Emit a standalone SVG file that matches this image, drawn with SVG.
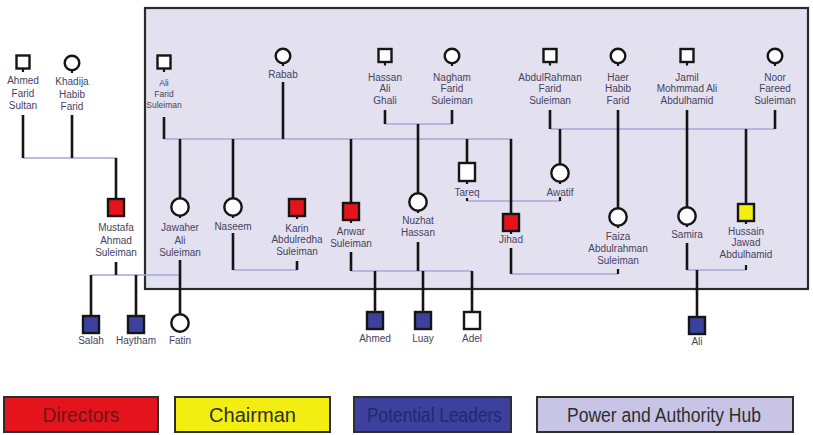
<svg xmlns="http://www.w3.org/2000/svg" width="813" height="435" viewBox="0 0 813 435">
  <style>
    .hub { fill: #e3e1f0; stroke: #2a2a2a; stroke-width: 2.2; }
    .h { stroke: #a9a4d7; stroke-width: 1.7; fill: none; }
    .v { stroke: #151515; stroke-width: 2.6; fill: none; }
    .tick { stroke: #151515; stroke-width: 2.2; fill: none; }
    .sq { fill: #ffffff; stroke: #151515; stroke-width: 2.4; }
    .ci { fill: #ffffff; stroke: #151515; stroke-width: 2.4; }
    .dir { fill: #e3141c; }
    .chair { fill: #f3ee12; }
    .lead { fill: #3b419c; }
    .lbl { font-family: "Liberation Sans", Arial, sans-serif; font-size: 10px; fill: #46435c; text-anchor: middle; }
    .lbl.small { font-size: 8.5px; }
    .key rect { stroke: #2e2e2e; stroke-width: 2; }
    .key text { font-family: "Liberation Sans", Arial, sans-serif; font-size: 20px; text-anchor: middle; }
  </style>

  <!-- power and authority hub -->
  <rect id="hub" class="hub" x="145" y="8" width="663" height="281"/>

  <g id="connectors">
    <!-- marriage / sibling bars -->
    <line class="h" x1="23" y1="158" x2="117" y2="158"/>
    <line class="h" x1="91" y1="275" x2="181" y2="275"/>
    <line class="h" x1="164" y1="139" x2="512" y2="139"/>
    <line class="h" x1="385" y1="124" x2="452" y2="124"/>
    <line class="h" x1="233" y1="270" x2="297" y2="270"/>
    <line class="h" x1="351" y1="271" x2="472" y2="271"/>
    <line class="h" x1="467" y1="201" x2="560" y2="201"/>
    <line class="h" x1="511" y1="274" x2="618" y2="274"/>
    <line class="h" x1="550" y1="129" x2="775" y2="129"/>
    <line class="h" x1="687" y1="270" x2="746" y2="270"/>
    <!-- descent lines -->
    <line class="v" x1="23" y1="115" x2="23" y2="158"/>
    <line class="v" x1="72" y1="115" x2="72" y2="158"/>
    <line class="v" x1="116" y1="158" x2="116" y2="199"/>
    <line class="v" x1="116" y1="262" x2="116" y2="275"/>
    <line class="v" x1="91" y1="275" x2="91" y2="316"/>
    <line class="v" x1="136" y1="275" x2="136" y2="316"/>
    <line class="v" x1="180" y1="260" x2="180" y2="314"/>
    <line class="v" x1="164" y1="117" x2="164" y2="139"/>
    <line class="v" x1="283" y1="82" x2="283" y2="139"/>
    <line class="v" x1="180" y1="139" x2="180" y2="198"/>
    <line class="v" x1="233" y1="139" x2="233" y2="198"/>
    <line class="v" x1="233" y1="233" x2="233" y2="270"/>
    <line class="v" x1="297" y1="261" x2="297" y2="270"/>
    <line class="v" x1="351" y1="139" x2="351" y2="203"/>
    <line class="v" x1="351" y1="252" x2="351" y2="271"/>
    <line class="v" x1="385" y1="110" x2="385" y2="124"/>
    <line class="v" x1="452" y1="110" x2="452" y2="124"/>
    <line class="v" x1="418" y1="124" x2="418" y2="193"/>
    <line class="v" x1="418" y1="242" x2="418" y2="271"/>
    <line class="v" x1="375" y1="271" x2="375" y2="312"/>
    <line class="v" x1="423" y1="271" x2="423" y2="312"/>
    <line class="v" x1="472" y1="271" x2="472" y2="312"/>
    <line class="v" x1="467" y1="139" x2="467" y2="163"/>
    <line class="v" x1="511" y1="139" x2="511" y2="214"/>
    <line class="v" x1="511" y1="248" x2="511" y2="274"/>
    <line class="v" x1="550" y1="110" x2="550" y2="129"/>
    <line class="v" x1="618" y1="110" x2="618" y2="208"/>
    <line class="v" x1="687" y1="110" x2="687" y2="207"/>
    <line class="v" x1="775" y1="110" x2="775" y2="129"/>
    <line class="v" x1="560" y1="129" x2="560" y2="164"/>
    <line class="v" x1="746" y1="129" x2="746" y2="204"/>
    <line class="v" x1="687" y1="243" x2="687" y2="270"/>
    <line class="v" x1="697" y1="270" x2="697" y2="317"/>
    <!-- short stubs under labels -->
    <line class="tick" x1="467" y1="198" x2="467" y2="201"/>
    <line class="tick" x1="560" y1="197" x2="560" y2="201"/>
    <line class="tick" x1="618" y1="269" x2="618" y2="274"/>
    <line class="tick" x1="746" y1="265" x2="746" y2="270"/>
  </g>

  <!-- founders outside the hub -->
  <g id="ahmed-farid-sultan">
    <rect class="sq" x="16.5" y="55.5" width="13" height="13"/>
    <line class="tick" x1="23" y1="69" x2="23" y2="72"/>
    <text class="lbl"><tspan x="23" y="84">Ahmed</tspan><tspan x="23" y="96.5">Farid</tspan><tspan x="23" y="109">Sultan</tspan></text>
  </g>
  <g id="khadija-habib-farid">
    <circle class="ci" cx="72" cy="63" r="7.3"/>
    <line class="tick" x1="72" y1="70" x2="72" y2="73"/>
    <text class="lbl"><tspan x="72" y="85">Khadija</tspan><tspan x="72" y="97.5">Habib</tspan><tspan x="72" y="110">Farid</tspan></text>
  </g>
  <g id="mustafa">
    <rect class="sq dir" x="108" y="199" width="16" height="17"/>
    <text class="lbl"><tspan x="116" y="231">Mustafa</tspan><tspan x="116" y="243.5">Ahmad</tspan><tspan x="116" y="255.5">Suleiman</tspan></text>
  </g>
  <g id="salah">
    <rect class="sq lead" x="83" y="316" width="16" height="17"/>
    <text class="lbl" x="91" y="344">Salah</text>
  </g>
  <g id="haytham">
    <rect class="sq lead" x="128" y="316" width="16" height="17"/>
    <text class="lbl" x="136" y="344">Haytham</text>
  </g>
  <g id="fatin">
    <circle class="ci" cx="180" cy="323" r="8.7"/>
    <text class="lbl" x="180" y="344">Fatin</text>
  </g>

  <!-- first generation inside the hub -->
  <g id="ali-farid-suleiman">
    <rect class="sq" x="157.5" y="55.5" width="13" height="13"/>
    <line class="tick" x1="164" y1="69" x2="164" y2="72"/>
    <text class="lbl small"><tspan x="164" y="86">Ali</tspan><tspan x="164" y="97">Farid</tspan><tspan x="164" y="108">Suleiman</tspan></text>
  </g>
  <g id="rabab">
    <circle class="ci" cx="283" cy="56" r="7.3"/>
    <line class="tick" x1="283" y1="63" x2="283" y2="66"/>
    <text class="lbl" x="283" y="78">Rabab</text>
  </g>
  <g id="hassan-ali-ghali">
    <rect class="sq" x="378.5" y="49" width="13" height="13"/>
    <line class="tick" x1="385" y1="62.5" x2="385" y2="65.5"/>
    <text class="lbl"><tspan x="385" y="80.5">Hassan</tspan><tspan x="385" y="92">Ali</tspan><tspan x="385" y="103.5">Ghali</tspan></text>
  </g>
  <g id="nagham-farid-suleiman">
    <circle class="ci" cx="452" cy="56" r="7.3"/>
    <line class="tick" x1="452" y1="63" x2="452" y2="66"/>
    <text class="lbl"><tspan x="452" y="80.5">Nagham</tspan><tspan x="452" y="92">Farid</tspan><tspan x="452" y="103.5">Suleiman</tspan></text>
  </g>
  <g id="abdulrahman-farid-suleiman">
    <rect class="sq" x="543.5" y="49" width="13" height="13"/>
    <line class="tick" x1="550" y1="62.5" x2="550" y2="65.5"/>
    <text class="lbl"><tspan x="550" y="80.5">AbdulRahman</tspan><tspan x="550" y="92">Farid</tspan><tspan x="550" y="103.5">Suleiman</tspan></text>
  </g>
  <g id="haer-habib-farid">
    <circle class="ci" cx="618" cy="56" r="7.3"/>
    <line class="tick" x1="618" y1="63" x2="618" y2="66"/>
    <text class="lbl"><tspan x="618" y="80.5">Haer</tspan><tspan x="618" y="92">Habib</tspan><tspan x="618" y="103.5">Farid</tspan></text>
  </g>
  <g id="jamil-mohmmad-ali-abdulhamid">
    <rect class="sq" x="680.5" y="49" width="13" height="13"/>
    <line class="tick" x1="687" y1="62.5" x2="687" y2="65.5"/>
    <text class="lbl"><tspan x="687" y="80.5">Jamil</tspan><tspan x="687" y="92">Mohmmad Ali</tspan><tspan x="687" y="103.5">Abdulhamid</tspan></text>
  </g>
  <g id="noor-fareed-suleiman">
    <circle class="ci" cx="775" cy="56" r="7.3"/>
    <line class="tick" x1="775" y1="63" x2="775" y2="66"/>
    <text class="lbl"><tspan x="775" y="80.5">Noor</tspan><tspan x="775" y="92">Fareed</tspan><tspan x="775" y="103.5">Suleiman</tspan></text>
  </g>

  <!-- second generation -->
  <g id="jawaher-ali-suleiman">
    <circle class="ci" cx="180" cy="207" r="8.7"/>
    <line class="tick" x1="180" y1="215" x2="180" y2="218"/>
    <text class="lbl"><tspan x="180" y="231">Jawaher</tspan><tspan x="180" y="243.5">Ali</tspan><tspan x="180" y="255.5">Suleiman</tspan></text>
  </g>
  <g id="naseem">
    <circle class="ci" cx="233" cy="207" r="8.7"/>
    <line class="tick" x1="233" y1="215" x2="233" y2="218"/>
    <text class="lbl" x="233" y="229.5">Naseem</text>
  </g>
  <g id="karin-abdulredha-suleiman">
    <rect class="sq dir" x="289" y="199" width="16" height="17"/>
    <line class="tick" x1="297" y1="216" x2="297" y2="219"/>
    <text class="lbl"><tspan x="297" y="231.5">Karin</tspan><tspan x="297" y="243">Abdulredha</tspan><tspan x="297" y="254.5">Suleiman</tspan></text>
  </g>
  <g id="anwar-suleiman">
    <rect class="sq dir" x="343" y="203" width="16" height="17"/>
    <line class="tick" x1="351" y1="220" x2="351" y2="223"/>
    <text class="lbl"><tspan x="351" y="234.5">Anwar</tspan><tspan x="351" y="246.5">Suleiman</tspan></text>
  </g>
  <g id="nuzhat-hassan">
    <circle class="ci" cx="418" cy="202" r="8.7"/>
    <line class="tick" x1="418" y1="210" x2="418" y2="213"/>
    <text class="lbl"><tspan x="418" y="223.5">Nuzhat</tspan><tspan x="418" y="235.5">Hassan</tspan></text>
  </g>
  <g id="tareq">
    <rect class="sq" x="459" y="163" width="16" height="18"/>
    <line class="tick" x1="467" y1="181" x2="467" y2="184"/>
    <text class="lbl" x="467" y="195.5">Tareq</text>
  </g>
  <g id="awatif">
    <circle class="ci" cx="560" cy="173" r="8.7"/>
    <line class="tick" x1="560" y1="181" x2="560" y2="184"/>
    <text class="lbl" x="560" y="195.5">Awatif</text>
  </g>
  <g id="jihad">
    <rect class="sq dir" x="503" y="214" width="16" height="17"/>
    <line class="tick" x1="511" y1="231" x2="511" y2="234"/>
    <text class="lbl" x="511" y="242.5">Jihad</text>
  </g>
  <g id="faiza-abdulrahman-suleiman">
    <circle class="ci" cx="618" cy="217" r="8.7"/>
    <line class="tick" x1="618" y1="225" x2="618" y2="228"/>
    <text class="lbl"><tspan x="618" y="240">Faiza</tspan><tspan x="618" y="252">Abdulrahman</tspan><tspan x="618" y="263.5">Suleiman</tspan></text>
  </g>
  <g id="samira">
    <circle class="ci" cx="687" cy="216" r="8.7"/>
    <line class="tick" x1="687" y1="224" x2="687" y2="227"/>
    <text class="lbl" x="687" y="238">Samira</text>
  </g>
  <g id="hussain-jawad-abdulhamid">
    <rect class="sq chair" x="738" y="204" width="16" height="17"/>
    <line class="tick" x1="746" y1="221" x2="746" y2="224"/>
    <text class="lbl"><tspan x="746" y="234.5">Hussain</tspan><tspan x="746" y="246">Jawad</tspan><tspan x="746" y="258">Abdulhamid</tspan></text>
  </g>

  <!-- third generation -->
  <g id="ahmed">
    <rect class="sq lead" x="367" y="312" width="16" height="17"/>
    <text class="lbl" x="375" y="342">Ahmed</text>
  </g>
  <g id="luay">
    <rect class="sq lead" x="415" y="312" width="16" height="17"/>
    <text class="lbl" x="423" y="342">Luay</text>
  </g>
  <g id="adel">
    <rect class="sq" x="464" y="312" width="16" height="17"/>
    <text class="lbl" x="472" y="342">Adel</text>
  </g>
  <g id="ali">
    <rect class="sq lead" x="689" y="317" width="16" height="17"/>
    <text class="lbl" x="697" y="345">Ali</text>
  </g>

  <!-- legend -->
  <g id="legend" class="key">
    <g id="key-directors">
      <rect x="4" y="397" width="154" height="35" fill="#e3141c"/>
      <text x="81" y="422" fill="#6e1616" textLength="77" lengthAdjust="spacingAndGlyphs">Directors</text>
    </g>
    <g id="key-chairman">
      <rect x="175" y="397" width="155" height="35" fill="#f3ee12"/>
      <text x="252.5" y="422" fill="#2e2e2e" textLength="87" lengthAdjust="spacingAndGlyphs">Chairman</text>
    </g>
    <g id="key-potential-leaders">
      <rect x="354" y="397" width="157" height="35" fill="#3b419c"/>
      <text x="434.5" y="422" fill="#23286f" textLength="135" lengthAdjust="spacingAndGlyphs">Potential Leaders</text>
    </g>
    <g id="key-hub">
      <rect x="537" y="397" width="256" height="35" fill="#c7c4e6"/>
      <text x="664" y="422" fill="#2e2e2e" textLength="194" lengthAdjust="spacingAndGlyphs">Power and Authority Hub</text>
    </g>
  </g>
</svg>
